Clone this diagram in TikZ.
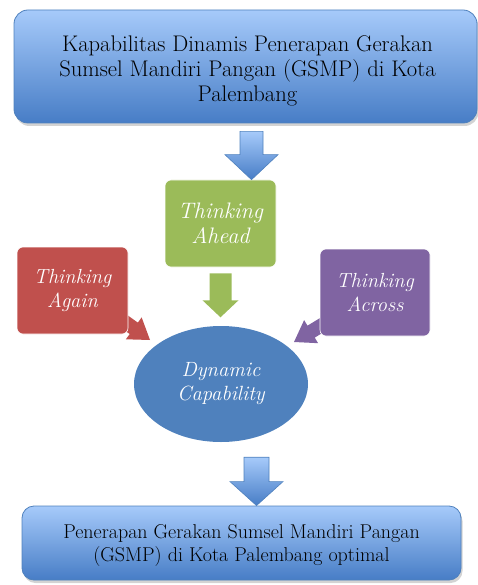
\documentclass[tikz,border=0pt]{standalone}
\usepackage{fontspec}
\usetikzlibrary{calc,shapes.geometric,shadows}
\definecolor{bluetop}{HTML}{A6CAFA}
\definecolor{bluebot}{HTML}{477DC6}
\definecolor{blueedge}{HTML}{4F81BD}
\definecolor{greenf}{HTML}{9BBB59}
\definecolor{redf}{HTML}{C0504D}
\definecolor{purplef}{HTML}{8064A2}
\definecolor{ellf}{HTML}{4F81BD}
\tikzset{
  bigbox/.style={draw=blueedge, line width=0.8pt, rounded corners=14pt, top color=bluetop, bottom color=bluebot,
    drop shadow={opacity=0.35, shadow xshift=1.5pt, shadow yshift=-3pt}},
  bigtext/.style={align=center, text=black, inner sep=0pt},
  thinkbox/.style={rounded corners=6pt, draw=white, line width=0.6pt, align=center, text=white,
    font=\fontsize{20.4}{23.5}\selectfont\itshape},
  bluearr/.style={top color=bluetop, bottom color=bluebot, draw=blueedge, line width=0.6pt},
}
% block arrow: start, end, shaft half width, head half width, head length (pt), style
\newcommand\blockarr[6]{%
  \coordinate (tmpb) at ($(#2)!#5pt!(#1)$);
  \path[#6] ($(#1)!#3pt!90:(#2)$) -- ($(tmpb)!#3pt!-90:(#1)$) -- ($(tmpb)!#4pt!-90:(#1)$) -- (#2)
    -- ($(tmpb)!#4pt!90:(#1)$) -- ($(tmpb)!#3pt!90:(#1)$) -- ($(#1)!#3pt!-90:(#2)$) -- cycle;
}
\begin{document}
\begin{tikzpicture}[x=1pt,y=-1pt]
\useasboundingbox (0,0) rectangle (478,585);
% small diagonal arrows (behind boxes)
\coordinate (ras) at (118,317);
\coordinate (rae) at (150,340);
\blockarr{ras}{rae}{7}{13.5}{20}{fill=redf}
\coordinate (pas) at (327,322);
\coordinate (pae) at (294,342);
\blockarr{pas}{pae}{7}{13.5}{20}{fill=purplef}

\node[bigbox, minimum width=463pt, minimum height=113pt] (top) at (245.5,66.5) {};
\node[bigtext, font=\fontsize{22.6}{25}\selectfont] (toptext) at ($(top.center)+(2,4)$)
  {Kapabilitas Dinamis Penerapan Gerakan\\Sumsel Mandiri Pangan (GSMP) di Kota\\Palembang};

\node[thinkbox, fill=greenf, minimum width=111pt, minimum height=87pt, font=\fontsize{22.4}{25}\selectfont\itshape] (ahead) at (220.5,223.5) {Thinking\\Ahead};
\node[thinkbox, fill=redf, minimum width=111pt, minimum height=87pt] (again) at (72.5,290.5) {Thinking\\Again};
\node[thinkbox, fill=purplef, minimum width=110pt, minimum height=87pt] (across) at (375,292.5) {Thinking\\Across};

\node[ellipse, fill=ellf, minimum width=174pt, minimum height=116pt, inner sep=0pt, text=white, align=center,
  font=\fontsize{20.6}{24}\selectfont\itshape] (dyn) at (221,384) {Dynamic\\Capability};

\node[bigbox, rounded corners=12pt, minimum width=439pt, minimum height=74pt] (bot) at (241.5,543) {};
\node[bigtext, font=\fontsize{20}{23}\selectfont] (bottext) at ($(bot.center)+(0,3)$)
  {Penerapan Gerakan Sumsel Mandiri Pangan\\(GSMP) di Kota Palembang optimal};

% block arrows between nodes
\coordinate (a1s) at ($(top.south)+(6,8)$);
\coordinate (a1e) at (a1s |- ahead.north);
\blockarr{a1s}{a1e}{11.5}{26.5}{25}{bluearr}
\coordinate (a2s) at ($(ahead.south)+(0,6)$);
\coordinate (a2e) at ($(a2s)+(0,44)$);
\blockarr{a2s}{a2e}{11}{18}{17}{fill=greenf}
\coordinate (a3s) at ($(dyn.south)+(35.5,15)$);
\coordinate (a3e) at (a3s |- bot.north);
\blockarr{a3s}{a3e}{12.5}{26.5}{24}{bluearr}
\end{tikzpicture}
\end{document}
